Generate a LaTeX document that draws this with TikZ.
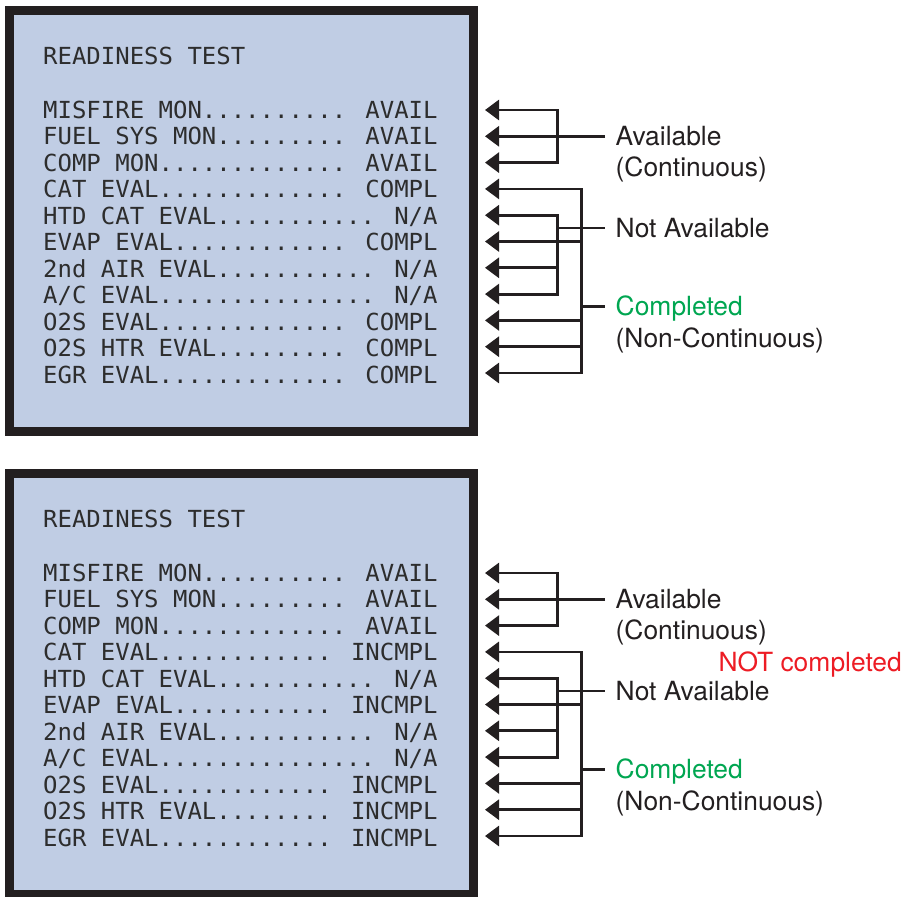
\documentclass[tikz,border=0pt]{standalone}
\usepackage{fontspec}
\usetikzlibrary{arrows.meta}

\newfontfamily\lcdfont[FakeStretch=1.02]{DejaVu Sans Mono}
\newfontfamily\lblfont{TeX Gyre Heros}

\definecolor{lcdblue}{RGB}{192,205,228}
\definecolor{lcdtext}{RGB}{45,45,45}
\definecolor{ink}{RGB}{35,31,32}
\definecolor{okgreen}{RGB}{0,166,81}
\definecolor{alertred}{RGB}{237,28,36}

\begin{document}
\begin{tikzpicture}[
			x=1bp, y=-1bp,
			screen/.style={
				draw=ink,
				fill=lcdblue,
				line width=9bp
			},
			lcd/.style={
				anchor=base west,
				inner sep=0pt,
				text=lcdtext,
				font=\lcdfont\fontsize{23.5bp}{26.5bp}\selectfont
			},
			lbl/.style={
				anchor=base west,
				inner sep=0pt,
				inner xsep=10.5bp,
				text height=18.5bp,
				text depth=0pt,
				text=ink,
				font=\lblfont\fontsize{26.4bp}{31.5bp}\selectfont
			},
			wire/.style={
				draw=ink,
				line width=2.8bp
			},
			tip/.style={
				wire,
				-{Triangle[length=14bp,width=20bp]}
			},
			tips/.style={
				wire,
				{Triangle[length=14bp,width=20bp]}-{Triangle[length=14bp,width=20bp]}
			}
			]
			
			\useasboundingbox (0,0) rectangle (907,897);
			\coordinate (busA) at (557.3,0);
			\coordinate (busB) at (581.7,0);
			
			% top screen: all monitors complete
			\begin{scope}
			\draw [screen] (9.5,10.5) rectangle (473,431.5);
			\node (t-title) [lcd] at (43,64) {READINESS TEST};
			\node (t-row1) [lcd] at (43,118.3) {MISFIRE MON.......... AVAIL};
			\node (t-row2) [lcd] at (43,144.8) {FUEL SYS MON......... AVAIL};
			\node (t-row3) [lcd] at (43,171.3) {COMP MON............. AVAIL};
			\node (t-row4) [lcd] at (43,197.8) {CAT EVAL............. COMPL};
			\node (t-row5) [lcd] at (43,224.3) {HTD CAT EVAL........... N/A};
			\node (t-row6) [lcd] at (43,250.8) {EVAP EVAL............ COMPL};
			\node (t-row7) [lcd] at (43,277.3) {2nd AIR EVAL........... N/A};
			\node (t-row8) [lcd] at (43,303.8) {A/C EVAL............... N/A};
			\node (t-row9) [lcd] at (43,330.3) {O2S EVAL............. COMPL};
			\node (t-row10) [lcd] at (43,356.8) {O2S HTR EVAL......... COMPL};
			\node (t-row11) [lcd] at (43,383.3) {EGR EVAL............. COMPL};
			
			\foreach \i in {1,...,11}
				\coordinate (t-a\i) at (485,83.7+26.3*\i);
			
			\node (t-avail) [lbl] at (605,145) {Available};
			\node (t-cont) [lbl] at (605,176.5) {(Continuous)};
			\node (t-notavail) [lbl] at (605,237.3) {Not Available};
			\node (t-compl) [lbl, text=okgreen] at (605,315.5) {Completed};
			\node (t-noncont) [lbl] at (605,347) {(Non-Continuous)};
			
			\draw [tips] (t-a1) -- (t-a1 -| busA) -- (t-a3 -| busA) -- (t-a3);
			\draw [tip] (t-avail.west |- t-a2) -- (t-a2);
			
			\draw [tips] (t-a5) -- (t-a5 -| busA) -- (t-a8 -| busA) -- (t-a8);
			\draw [tip] (t-a7 -| busA) -- (t-a7);
			\draw [wire] (t-notavail.west -| busA) -- (t-notavail.west);
			
			\draw [tips] (t-a4) -- (t-a4 -| busB) -- (t-a11 -| busB) -- (t-a11);
			\foreach \i in {6,9,10}
				\draw [tip] (t-a\i -| busB) -- (t-a\i);
			\draw [wire] (t-compl.west -| busB) -- (t-compl.west);
			\end{scope}
			
			% bottom screen: evaluations not yet run
			\begin{scope}[yshift=-463bp]
			\draw [screen] (9.5,10.5) rectangle (473,431.5);
			\node (b-title) [lcd] at (43,64) {READINESS TEST};
			\node (b-row1) [lcd] at (43,118.3) {MISFIRE MON.......... AVAIL};
			\node (b-row2) [lcd] at (43,144.8) {FUEL SYS MON......... AVAIL};
			\node (b-row3) [lcd] at (43,171.3) {COMP MON............. AVAIL};
			\node (b-row4) [lcd] at (43,197.8) {CAT EVAL............ INCMPL};
			\node (b-row5) [lcd] at (43,224.3) {HTD CAT EVAL........... N/A};
			\node (b-row6) [lcd] at (43,250.8) {EVAP EVAL........... INCMPL};
			\node (b-row7) [lcd] at (43,277.3) {2nd AIR EVAL........... N/A};
			\node (b-row8) [lcd] at (43,303.8) {A/C EVAL............... N/A};
			\node (b-row9) [lcd] at (43,330.3) {O2S EVAL............ INCMPL};
			\node (b-row10) [lcd] at (43,356.8) {O2S HTR EVAL........ INCMPL};
			\node (b-row11) [lcd] at (43,383.3) {EGR EVAL............ INCMPL};
			
			\foreach \i in {1,...,11}
				\coordinate (b-a\i) at (485,83.7+26.3*\i);
			
			\node (b-avail) [lbl] at (605,145) {Available};
			\node (b-cont) [lbl] at (605,176.5) {(Continuous)};
			\node (b-notcompl) [lbl, inner xsep=0pt, text=alertred] at (718.3,208.7) {NOT completed};
			\node (b-notavail) [lbl] at (605,237.3) {Not Available};
			\node (b-compl) [lbl, text=okgreen] at (605,315.5) {Completed};
			\node (b-noncont) [lbl] at (605,347) {(Non-Continuous)};
			
			\draw [tips] (b-a1) -- (b-a1 -| busA) -- (b-a3 -| busA) -- (b-a3);
			\draw [tip] (b-avail.west |- b-a2) -- (b-a2);
			
			\draw [tips] (b-a5) -- (b-a5 -| busA) -- (b-a8 -| busA) -- (b-a8);
			\draw [tip] (b-a7 -| busA) -- (b-a7);
			\draw [wire] (b-notavail.west -| busA) -- (b-notavail.west);
			
			\draw [tips] (b-a4) -- (b-a4 -| busB) -- (b-a11 -| busB) -- (b-a11);
			\foreach \i in {6,9,10}
				\draw [tip] (b-a\i -| busB) -- (b-a\i);
			\draw [wire] (b-compl.west -| busB) -- (b-compl.west);
			\end{scope}
			
		\end{tikzpicture}
\end{document}
